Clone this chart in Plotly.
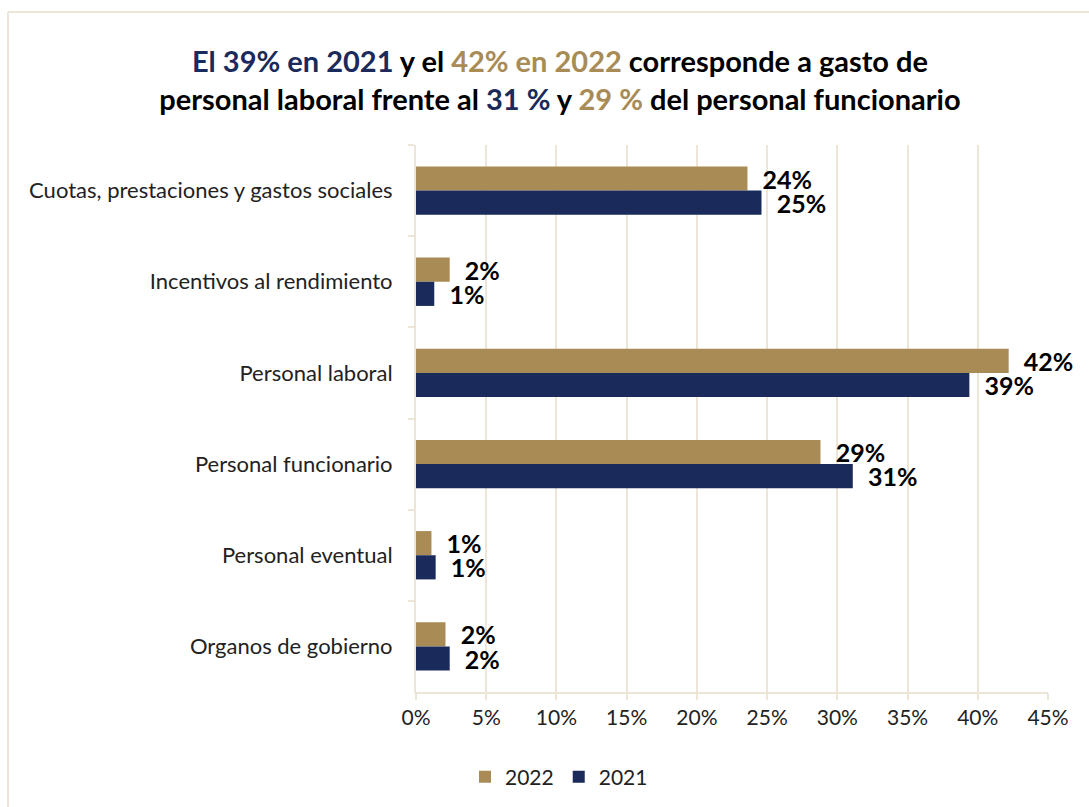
import plotly.graph_objects as go

categories = [
    "Cuotas, prestaciones y gastos sociales",
    "Incentivos al rendimiento",
    "Personal laboral",
    "Personal funcionario",
    "Personal eventual",
    "Organos de gobierno",
]
values_2022 = [23.6, 2.4, 42.2, 28.8, 1.1, 2.1]
values_2021 = [24.6, 1.3, 39.4, 31.1, 1.4, 2.4]
x_ticks = [0, 5, 10, 15, 20, 25, 30, 35, 40, 45]
x_tick_labels = ["0%", "5%", "10%", "15%", "20%", "25%", "30%", "35%", "40%", "45%"]

GOLD = "#A88B55"
NAVY = "#1A2A5A"
GRID = "#EDE6D8"
FONT = "Lato"

W, H = 1089, 807
ML, MR, MT, MB = 416, 41, 145, 115
PW, PH = W - ML - MR, H - MT - MB

def px_x(p):
    return (p - ML) / PW

def px_y(p):
    return (H - MB - p) / PH

fig = go.Figure()
for name, vals, col in [("2022", values_2022, GOLD), ("2021", values_2021, NAVY)]:
    fig.add_trace(go.Bar(
        y=categories, x=vals, name=name, orientation="h",
        marker=dict(color=col, line=dict(width=0)),
        texttemplate="\u00a0\u00a0%{x:.0f}%", textposition="outside",
        constraintext="none",
        textfont=dict(family=FONT, size=25, color="black", weight="bold"),
        cliponaxis=False,
    ))

title = ("<b><span style='color:%s'>El 39%% en 2021</span> y el "
         "<span style='color:%s'>42%% en 2022</span> corresponde a gasto de<br>"
         "personal laboral frente al <span style='color:%s'>31 %%</span> y "
         "<span style='color:%s'>29 %%</span> del personal funcionario</b>") % (NAVY, GOLD, NAVY, GOLD)

fig.update_layout(
    width=W, height=H,
    margin=dict(l=ML, r=MR, t=MT, b=MB, autoexpand=False),
    paper_bgcolor="white", plot_bgcolor="white",
    barmode="group", bargap=0.47, bargroupgap=0,
    title=dict(text=title, x=560 / W, xref="container", xanchor="center",
               y=1 - 72 / H, yref="container", yanchor="middle",
               font=dict(family=FONT, size=29, color="black")),
    font=dict(family=FONT, size=21, color="#222222"),
    legend=dict(orientation="h", x=559 / W, xref="container", xanchor="center",
                y=1 - 777 / H, yref="container", yanchor="middle",
                font=dict(family=FONT, size=21, color="#222222"),
                traceorder="normal", itemwidth=30),
    xaxis=dict(range=[0, 45], tickvals=x_ticks, ticktext=x_tick_labels,
               showgrid=True, gridcolor=GRID, gridwidth=2,
               showline=True, linecolor=GRID, linewidth=2,
               ticks="outside", ticklen=6, tickcolor=GRID, tickwidth=2,
               zeroline=False, tickfont=dict(family=FONT, size=21, color="#222222"),
               automargin=False),
    yaxis=dict(autorange="reversed", showline=True, linecolor=GRID, linewidth=2,
               ticks="outside", ticklen=6, tickcolor=GRID, tickwidth=2,
               tickson="boundaries", showgrid=False,
               ticklabelstandoff=17,
               tickfont=dict(family=FONT, size=22, color="#222222"),
               automargin=False),
    shapes=[
        dict(type="line", xref="paper", yref="paper",
             x0=px_x(8), x1=px_x(W), y0=px_y(12), y1=px_y(12),
             line=dict(color=GRID, width=2)),
        dict(type="line", xref="paper", yref="paper",
             x0=px_x(8), x1=px_x(8), y0=px_y(12), y1=px_y(H),
             line=dict(color=GRID, width=2)),
    ],
)

fig.write_html("out.html", config={"displayModeBar": False},
               post_script="document.body.style.margin='0';")
